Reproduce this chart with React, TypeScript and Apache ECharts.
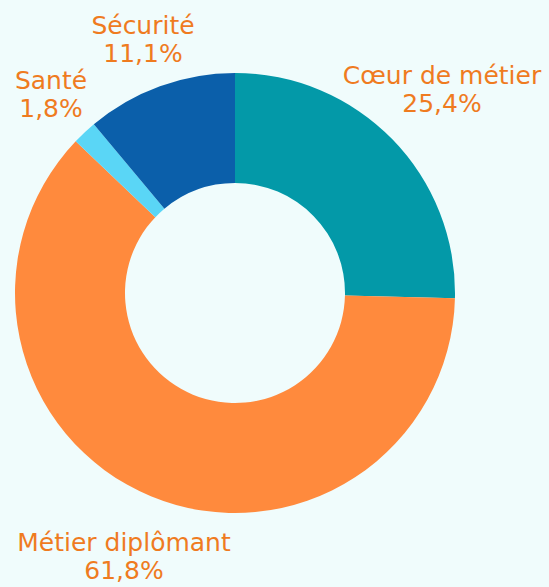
import React, { useEffect, useRef } from "react";
import * as echarts from "echarts";

const categories = ["Cœur de métier", "Métier diplômant", "Santé", "Sécurité"];
const values = [25.4, 61.8, 1.8, 11.1];
const colors = ["#0399A8", "#FF8A3D", "#5AD6F6", "#0B5FAA"];
const labelPos: [number, number][] = [
  [442, 89],
  [124, 556],
  [51, 94],
  [143, 39],
];

export default function App() {
  const ref = useRef<HTMLDivElement>(null);
  useEffect(() => {
    document.body.style.margin = "0";
    const chart = echarts.init(ref.current!, null, { renderer: "svg" });
    chart.setOption({
      animation: false,
      backgroundColor: "#F0FCFC",
      series: [
        {
          type: "pie",
          center: [235, 293],
          radius: [110, 220],
          startAngle: 90,
          clockwise: true,
          avoidLabelOverlap: false,
          data: categories.map((c, i) => ({
            name: c,
            value: values[i],
            itemStyle: { color: colors[i] },
          })),
          label: {
            show: true,
            position: "outside",
            formatter: (p: any) =>
              `${p.name}\n${Number(p.value).toFixed(1).replace(".", ",")}%`,
            color: "#EF7B1F",
            fontFamily: "DejaVu Sans",
            fontSize: 25,
            lineHeight: 28,
            align: "center",
          },
          labelLine: { show: false },
          labelLayout: (params: any) => {
            const p = labelPos[params.dataIndex];
            return { x: p[0], y: p[1], align: "center", verticalAlign: "middle" };
          },
          emphasis: { disabled: true },
        },
      ],
    });
    return () => chart.dispose();
  }, []);
  return <div ref={ref} style={{ width: 549, height: 587 }} />;
}
